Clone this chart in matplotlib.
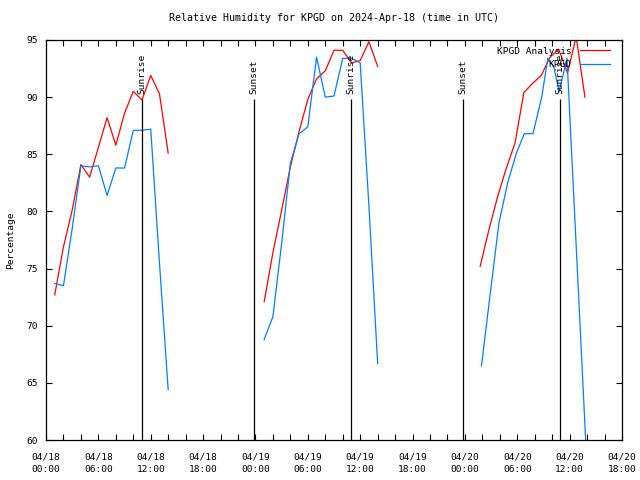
import numpy as np
import pandas as pd
import matplotlib
matplotlib.use("Agg")
import matplotlib.pyplot as plt
import matplotlib.dates as mdates

plt.rcParams["font.family"] = ["DejaVu Sans Mono"]
plt.rcParams["font.size"] = 6.8

start = pd.Timestamp("2024-04-18 00:00")

# hours after 04/18 00:00 UTC, NaN splits the runs
analysis_hours = [1, 2, 3, 4, 5, 6, 7, 8, 9, 10, 11, 12, 13, 14, np.nan,
                  25, 26, 27, 28, 29, 30, 31, 32, 33, 34, 35, 36, 37, 38, np.nan,
                  49.75, 50.75, 51.75, 52.75, 53.75, 54.75, 55.75, 56.75, 57.75,
                  58.75, 59.75, 60.75, 61.75]
analysis_rh = [72.7, 76.9, 80.1, 84.1, 83.0, 85.6, 88.2, 85.8, 88.6, 90.5, 89.75, 91.9, 90.3, 85.1, np.nan,
               72.1, 76.4, 80.1, 83.9, 87.0, 89.8, 91.6, 92.3, 94.1, 94.1, 93.0, 93.2, 94.85, 92.7, np.nan,
               75.2, 78.4, 81.3, 83.8, 86.0, 90.4, 91.2, 91.9, 93.5,
               94.2, 92.1, 95.3, 90.0]

obs_hours = [1, 2, 3, 4, 5, 6, 7, 8, 9, 10, 11, 12, 13, 14, np.nan,
             25, 26, 27, 28, 29, 30, 31, 32, 33, 34, 35, 36, 37, 38, np.nan,
             49.9, 50.9, 51.9, 52.9, 53.9, 54.8, 55.8, 56.8, 57.5, 58.2, 58.8, 59.7, 61.9]
obs_rh = [73.7, 73.5, 78.5, 84.0, 83.9, 84.0, 81.4, 83.8, 83.8, 87.1, 87.1, 87.2, 75.5, 64.4, np.nan,
          68.8, 70.8, 77.2, 84.2, 86.8, 87.4, 93.5, 90.0, 90.1, 93.4, 93.4, 93.0, 80.5, 66.7, np.nan,
          66.5, 72.8, 79.0, 82.5, 85.1, 86.8, 86.8, 90.0, 93.4, 92.6, 90.5, 93.4, 59.0]

sun_hours = [11.0, 23.8, 34.9, 47.8, 58.9]
sun_labels = ["Sunrise", "Sunset", "Sunrise", "Sunset", "Sunrise"]


def to_time(hours):
    return (start + pd.to_timedelta(hours, unit="h")).to_numpy()


fig = plt.figure(figsize=(6.4, 4.8), dpi=100)
ax = fig.add_axes([46 / 640, 40 / 480, 576 / 640, 400 / 480])

ax.plot(to_time(analysis_hours), analysis_rh, color="#ff0000", lw=0.9, label="KPGD Analysis")
ax.plot(to_time(obs_hours), obs_rh, color="#0080ff", lw=0.9, label="KPGD")

for t, lab in zip(to_time(sun_hours), sun_labels):
    ax.vlines(t, 60, 89.8, color="black", lw=0.9)
    ax.text(t, 90.3, lab, rotation=90, ha="center", va="bottom")

ax.set_ylim(60, 95)
ax.set_xlim(start, start + pd.Timedelta(hours=66))
ax.set_yticks(np.arange(60, 96, 5))
ax.xaxis.set_major_locator(mdates.HourLocator(byhour=[0, 6, 12, 18]))
ax.xaxis.set_minor_locator(mdates.HourLocator(byhour=range(0, 24, 2)))
ax.xaxis.set_major_formatter(mdates.DateFormatter("%m/%d\n%H:%M"))
ax.tick_params(which="both", direction="in", top=True, right=True, length=4, width=0.8)
ax.tick_params(axis="x", pad=9)
ax.tick_params(axis="y", pad=6)
for tick in ax.xaxis.get_major_ticks():
    tick.label1.set_linespacing(1.5)
for s in ax.spines.values():
    s.set_linewidth(0.9)

ax.set_title("Relative Humidity for KPGD on 2024-Apr-18 (time in UTC)", fontsize=7.2, pad=14)
ax.set_ylabel("Percentage")
ax.yaxis.set_label_coords(-31 / 576, 0.5)

ax.legend(loc="upper right", frameon=False, markerfirst=False, handlelength=3.2,
          handletextpad=0.9, labelspacing=0.45, borderaxespad=0.3,
          bbox_to_anchor=(1 - 5 / 576, 1.0))

fig.savefig("out.png", dpi=100)
